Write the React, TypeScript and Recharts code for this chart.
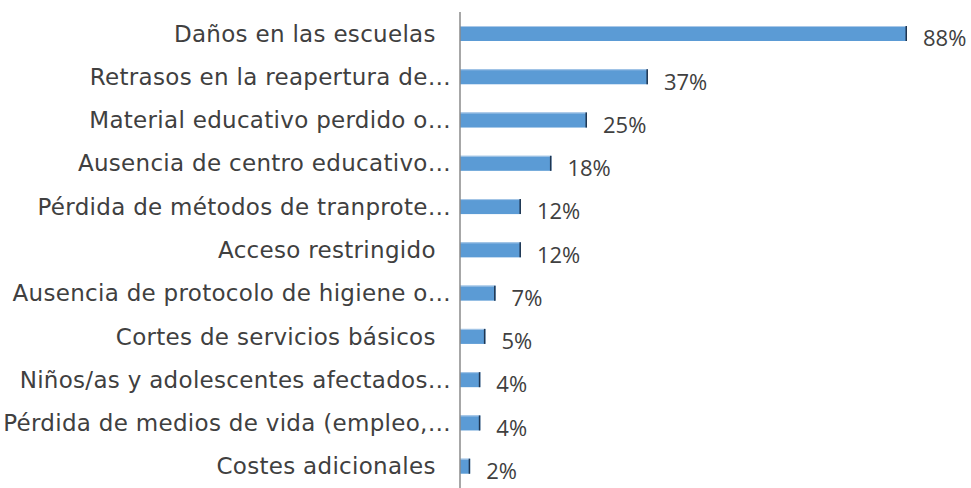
import React from "react";
import { BarChart, Bar, XAxis, YAxis, LabelList } from "recharts";

const categories = [
  "Daños en las escuelas  ",
  "Retrasos en la reapertura de…",
  "Material educativo perdido o…",
  "Ausencia de centro educativo…",
  "Pérdida de métodos de tranprote…",
  "Acceso restringido  ",
  "Ausencia de protocolo de higiene o…",
  "Cortes de servicios básicos  ",
  "Niños/as y adolescentes afectados…",
  "Pérdida de medios de vida (empleo,…",
  "Costes adicionales  ",
];

const percentages = [88, 37, 25, 18, 12, 12, 7, 5, 4, 4, 2];

const data = categories.map((name, i) => ({ name, value: percentages[i] }));

const textColor = "#404040";

// tick izquierdo: texto alineado a la derecha del eje
const CategoryTick = (props: any) => {
  const { x, y, payload } = props;
  return (
    <text
      x={x - 1}
      y={y}
      dy={8}
      textAnchor="end"
      fill={textColor}
      fontSize={23}
      letterSpacing={0.3}
      fontFamily="'DejaVu Sans', sans-serif"
      style={{ whiteSpace: "pre" }}
    >
      {payload.value}
    </text>
  );
};

// barra con el borde derecho oscuro
const EdgeBar = (props: any) => {
  const { x, y, width, height, fill } = props;
  if (!width) return null;
  return (
    <g>
      <rect x={x} y={y} width={width} height={height} fill={fill} />
      <line x1={x} x2={x + width} y1={y + 0.5} y2={y + 0.5} stroke="#a9c8e8" strokeWidth={1} />
      <line
        x1={x + width - 0.75}
        x2={x + width - 0.75}
        y1={y}
        y2={y + height}
        stroke="#1f3550"
        strokeWidth={1.5}
      />
    </g>
  );
};

export default function App() {
  return (
    <div style={{ width: 971, height: 488, background: "#fff" }}>
      <style>{"body{margin:0}"}</style>
      <BarChart
        width={971}
        height={488}
        data={data}
        layout="vertical"
        margin={{ top: 12, right: 64, bottom: 0, left: 0 }}
        barCategoryGap={14}
      >
        <XAxis type="number" domain={[0, 88]} hide />
        <YAxis
          type="category"
          dataKey="name"
          width={460}
          axisLine={{ stroke: "#8a8a8a", strokeWidth: 1.5 }}
          tickLine={false}
          tick={<CategoryTick />}
          interval={0}
        />
        <Bar
          dataKey="value"
          fill="#5b9bd5"
          barSize={15}
          shape={<EdgeBar />}
          isAnimationActive={false}
        >
          <LabelList
            dataKey="value"
            position="right"
            offset={16}
            formatter={(v: any) => `${v}%`}
            fill={textColor}
            fontSize={22}
            fontFamily="'Open Sans', sans-serif"
            dy={5}
          />
        </Bar>
      </BarChart>
    </div>
  );
}
